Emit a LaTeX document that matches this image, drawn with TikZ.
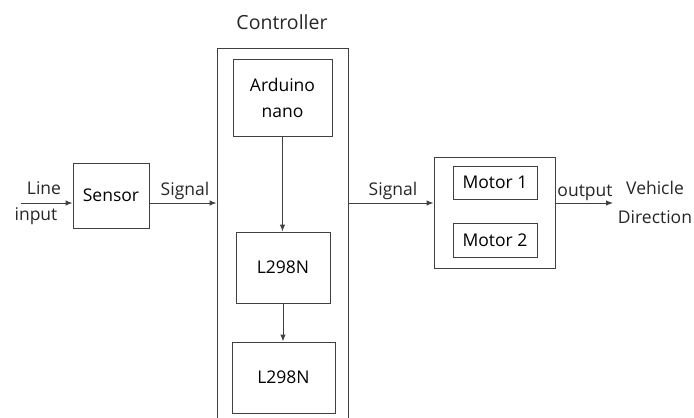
\documentclass[tikz,border=0pt]{standalone}
\usepackage{fontspec}
\setmainfont{Open Sans}
\usetikzlibrary{arrows.meta, positioning}
\definecolor{linegray}{HTML}{404040}
\tikzset{
    blk/.style={draw=linegray, line width=1pt, rectangle, inner sep=0pt},
    sig/.style={draw=linegray, line width=1pt, -{Latex[length=7pt,width=5.5pt]}},
    lbl/.style={inner sep=0pt, text=black!85}
}

\begin{document}
\begin{tikzpicture}[x=1pt, y=-1pt, font=\fontsize{17.5}{26}\selectfont]
            \useasboundingbox (0,0) rectangle (694,418);
            % blocks
            \node[blk, minimum width=76pt, minimum height=65pt] (sensor) at (111,195.5) {Sensor};
            \node[blk, minimum width=131pt, minimum height=392pt] (ctrl) at (282.5,244) {};
            \node[blk, minimum width=99pt, minimum height=77pt, align=center] (nano) at (282.5,97.5) {Arduino\\nano};
            \node[blk, minimum width=94pt, minimum height=71pt] (drvA) at (283,267.5) {L298N};
            \node[blk, minimum width=103pt, minimum height=71pt] (drvB) at (283.5,377.5) {L298N};
            \node[blk, minimum width=121pt, minimum height=111pt] (motors) at (494.5,212.5) {};
            \node[blk, minimum width=84pt, minimum height=33pt] (mtrA) at (495,182.5) {Motor 1};
            \node[blk, minimum width=84pt, minimum height=34pt] (mtrB) at (495,240) {Motor 2};
            \node[lbl, font=\fontsize{19.5}{24}\selectfont] (ctrlname) at (282,22) {Controller};

            % signal path
            \coordinate (lin) at (21,203);
            \coordinate (vout) at (613,203);
            \draw[sig] (lin) -- (lin -| sensor.west);
            \draw[sig] (sensor.east |- lin) -- (ctrl.west |- lin);
            \draw[sig] (ctrl.east |- lin) -- (motors.west |- lin);
            \draw[sig] (motors.east |- lin) -- (vout);
            \draw[sig] (nano.south) -- (nano.south |- drvA.north);
            \draw[sig] (drvA.south) -- (drvA.south |- drvB.north);

            % labels
            \node[lbl] (linetxt) at (44,188) {Line};
            \node[lbl] (inputtxt) at (36,216) {input};
            \node[lbl] (sigA) at (185,191) {Signal};
            \node[lbl] (sigB) at (393,191) {Signal};
            \node[lbl] (outtxt) at (585,193) {output};
            \node[lbl] (vehtxt) at (655,188) {Vehicle};
            \node[lbl] (dirtxt) at (655,217) {Direction};
        \end{tikzpicture}
\end{document}
